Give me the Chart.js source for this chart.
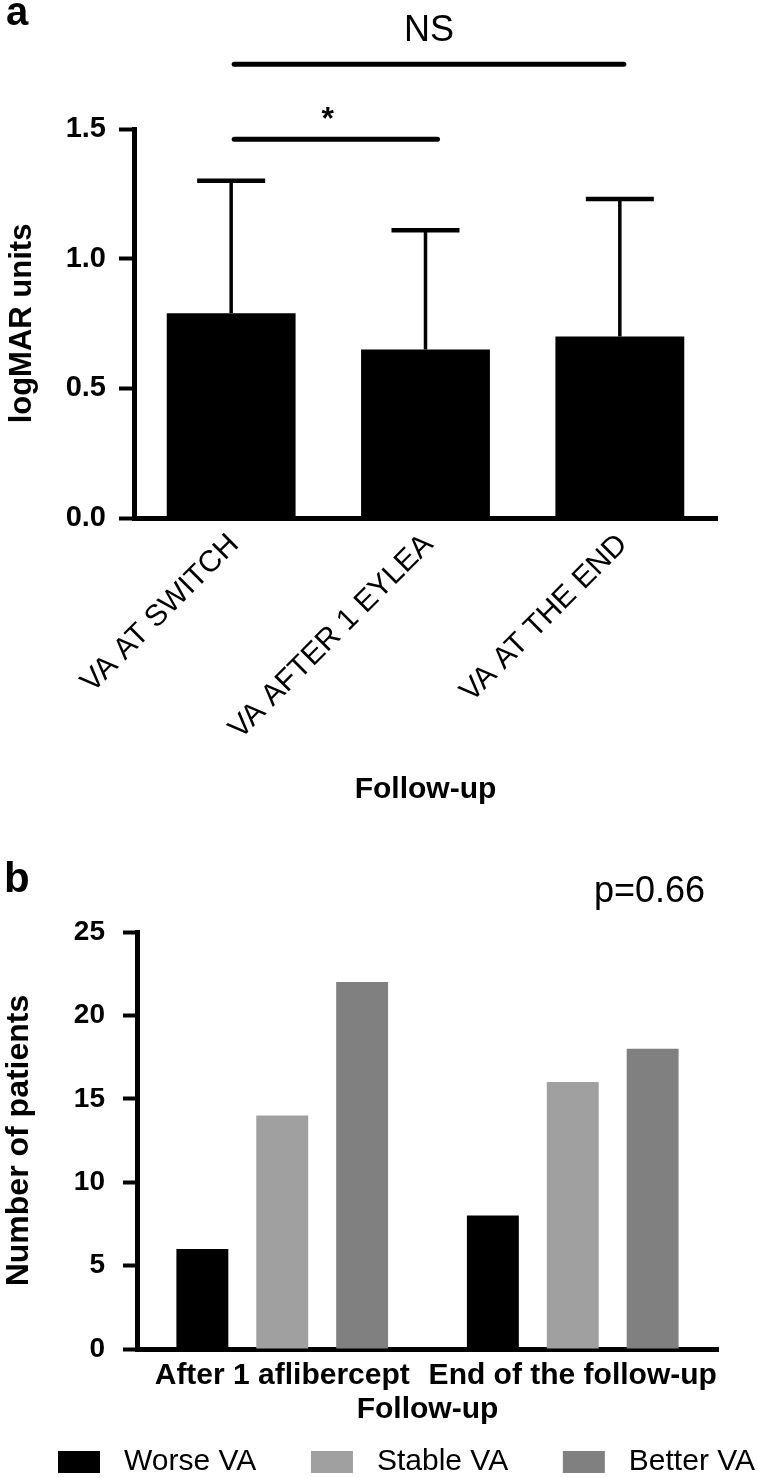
<!DOCTYPE html>
<html><head><meta charset="utf-8">
<script src="https://cdn.jsdelivr.net/npm/chart.js@4.4.1/dist/chart.umd.min.js"></script>
<style>
html,body{margin:0;padding:0;background:#fff;width:758px;height:1478px;overflow:hidden}
#ca{position:absolute;left:0;top:0}
#cb{position:absolute;left:0;top:840px}
</style></head><body>
<canvas id="ca" width="758" height="830"></canvas>
<canvas id="cb" width="758" height="638"></canvas>
<script>
const FONT = "'Liberation Sans', Arial, Helvetica, sans-serif";

// ---- Panel a data ----
const catsA = ['VA AT SWITCH', 'VA AFTER 1 EYLEA', 'VA AT THE END'];
const meanA = [0.79, 0.65, 0.70];
const sdA = [0.51, 0.46, 0.53];
const yTicksA = [0, 0.5, 1.0, 1.5];
const sigLabels = ['*', 'NS'];
const sigFrom = [0, 0];
const sigTo = [1, 2];
const sigLevel = [1.46, 1.75];

// ---- Panel b data ----
const catsB = ['After 1 aflibercept', 'End of the follow-up'];
const seriesB = ['Worse VA', 'Stable VA', 'Better VA'];
const worseB = [6, 8];
const stableB = [14, 16];
const betterB = [22, 18];
const yTicksB = [0, 5, 10, 15, 20, 25];
const pLabelB = 'p=0.66';

const errorBars = {
  id: 'errorBars',
  afterDatasetsDraw(chart) {
    const {ctx, scales: {x, y}} = chart;
    ctx.save();
    ctx.strokeStyle = '#000';
    meanA.forEach((m, i) => {
      const px = x.getPixelForValue(i);
      const yb = y.getPixelForValue(m);
      const yt = y.getPixelForValue(m + sdA[i]);
      ctx.lineWidth = 3.5;
      ctx.beginPath(); ctx.moveTo(px, yb); ctx.lineTo(px, yt); ctx.stroke();
      ctx.lineWidth = 4.5;
      ctx.beginPath(); ctx.moveTo(px - 34, yt); ctx.lineTo(px + 34, yt); ctx.stroke();
    });
    ctx.restore();
  }
};

const sigPlugin = {
  id: 'sig',
  afterDatasetsDraw(chart) {
    const {ctx, scales: {x, y}} = chart;
    ctx.save();
    ctx.fillStyle = '#000'; ctx.strokeStyle = '#000';
    ctx.lineWidth = 5; ctx.lineCap = 'round';
    sigLabels.forEach((lab, i) => {
      const x1 = x.getPixelForValue(sigFrom[i]) + 3;
      const x2 = x.getPixelForValue(sigTo[i]) + (i === 0 ? 12 : 4);
      const yy = y.getPixelForValue(sigLevel[i]);
      ctx.beginPath(); ctx.moveTo(x1, yy); ctx.lineTo(x2, yy); ctx.stroke();
      ctx.textAlign = 'center'; ctx.textBaseline = 'alphabetic';
      if (lab === '*') {
        ctx.font = 'bold 32px ' + FONT;
        ctx.fillText(lab, (x1 + x2) / 2 - 8, yy - 10);
      } else {
        ctx.font = '36px ' + FONT;
        ctx.fillText(lab, (x1 + x2) / 2, yy - 23);
      }
    });
    ctx.restore();
  }
};

const panelLabelA = {
  id: 'panelLabelA',
  afterDraw(chart) {
    const {ctx} = chart;
    ctx.save();
    ctx.fillStyle = '#000'; ctx.textAlign = 'left'; ctx.textBaseline = 'alphabetic';
    ctx.font = 'bold 40px ' + FONT;
    ctx.fillText('a', 6, 25);
    ctx.restore();
  }
};

const panelLabelB = {
  id: 'panelLabelB',
  afterDraw(chart) {
    const {ctx} = chart;
    ctx.save();
    ctx.fillStyle = '#000'; ctx.textAlign = 'left'; ctx.textBaseline = 'alphabetic';
    ctx.font = 'bold 42px ' + FONT;
    ctx.fillText('b', 4, 52);
    ctx.font = '36px ' + FONT;
    ctx.fillText(pLabelB, 594, 62);
    ctx.restore();
  }
};

const legendB = {
  id: 'legendB',
  afterDraw(chart) {
    const {ctx} = chart;
    ctx.save();
    ctx.font = '30px ' + FONT;
    ctx.textBaseline = 'middle'; ctx.textAlign = 'left';
    const startX = 58, endX = 755, yc = 622, boxW = 42, boxH = 22, textGap = 66;
    const dss = chart.data.datasets;
    const widths = dss.map(ds => textGap + ctx.measureText(ds.label).width);
    const gap = (endX - startX - widths.reduce((a, b) => a + b, 0)) / (dss.length - 1);
    let x = startX;
    dss.forEach((ds, i) => {
      ctx.fillStyle = ds.backgroundColor;
      ctx.fillRect(x, yc - boxH / 2, boxW, boxH);
      ctx.fillStyle = '#000';
      ctx.fillText(ds.label, x + textGap, yc);
      x += widths[i] + gap;
    });
    ctx.restore();
  }
};

new Chart(document.getElementById('ca'), {
  type: 'bar',
  data: {
    labels: catsA,
    datasets: [{label: 'logMAR units', data: meanA, backgroundColor: '#000000', borderWidth: 0,
      barPercentage: 0.663, categoryPercentage: 1}]
  },
  options: {
    responsive: false, animation: false,
    layout: {padding: {top: 129, right: 41, left: 0, bottom: 0}},
    plugins: {legend: {display: false}, tooltip: {enabled: false}},
    scales: {
      x: {
        grid: {display: true, drawOnChartArea: false, drawTicks: false},
        border: {display: true, color: '#000', width: 5},
        ticks: {color: '#000', font: {family: FONT, size: 30}, minRotation: 45, maxRotation: 45,
          autoSkip: false, padding: 9, labelOffset: 3},
        title: {display: true, text: 'Follow-up', color: '#000',
          font: {family: FONT, size: 30, weight: 'bold'}, padding: {top: 0, bottom: 22}},
        afterFit(s) { s.height = 312; s.paddingLeft = 0; s.paddingRight = 0; }
      },
      y: {
        min: 0, max: 1.5,
        afterBuildTicks(s) { s.ticks = yTicksA.map(v => ({value: v})); },
        grid: {display: true, drawOnChartArea: false, drawTicks: true, tickLength: 15, tickWidth: 4,
          color: '#000', tickColor: '#000'},
        border: {display: true, color: '#000', width: 5},
        ticks: {color: '#000', font: {family: FONT, size: 29, weight: 'bold'}, padding: 13,
          callback: v => Number(v).toFixed(1)},
        title: {display: true, text: 'logMAR units', color: '#000',
          font: {family: FONT, size: 31, weight: 'bold'}, padding: {top: 4, bottom: 0}},
        afterFit(s) { s.width = 134; s.paddingTop = 0; s.paddingBottom = 0; }
      }
    }
  },
  plugins: [errorBars, sigPlugin, panelLabelA]
});

new Chart(document.getElementById('cb'), {
  type: 'bar',
  data: {
    labels: catsB,
    datasets: [
      {label: seriesB[0], data: worseB, backgroundColor: '#000000'},
      {label: seriesB[1], data: stableB, backgroundColor: '#a0a0a0'},
      {label: seriesB[2], data: betterB, backgroundColor: '#808080'}
    ]
  },
  options: {
    responsive: false, animation: false,
    datasets: {bar: {barPercentage: 0.65, categoryPercentage: 0.825, borderWidth: 0}},
    layout: {padding: {top: 92, right: 40, left: 0, bottom: 0}},
    plugins: {legend: {display: false}, tooltip: {enabled: false}},
    scales: {
      x: {
        grid: {display: true, drawOnChartArea: false, drawTicks: false},
        border: {display: true, color: '#000', width: 5},
        ticks: {color: '#000', font: {family: FONT, size: 30, weight: 'bold'}, minRotation: 0, maxRotation: 0,
          autoSkip: false, padding: 9},
        title: {display: true, text: 'Follow-up', color: '#000',
          font: {family: FONT, size: 30, weight: 'bold'}, padding: {top: 0, bottom: 50}},
        afterFit(s) { s.height = 129; s.paddingLeft = 0; s.paddingRight = 0; }
      },
      y: {
        min: 0, max: 25,
        afterBuildTicks(s) { s.ticks = yTicksB.map(v => ({value: v})); },
        grid: {display: true, drawOnChartArea: false, drawTicks: true, tickLength: 14, tickWidth: 4,
          color: '#000', tickColor: '#000'},
        border: {display: true, color: '#000', width: 5},
        ticks: {color: '#000', font: {family: FONT, size: 28, weight: 'bold'}, padding: 18},
        title: {display: true, text: 'Number of patients', color: '#000',
          font: {family: FONT, size: 32, weight: 'bold'}, padding: {top: 0, bottom: 0}},
        afterFit(s) { s.width = 137; s.paddingTop = 0; s.paddingBottom = 0; }
      }
    }
  },
  plugins: [panelLabelB, legendB]
});
</script>
</body></html>
